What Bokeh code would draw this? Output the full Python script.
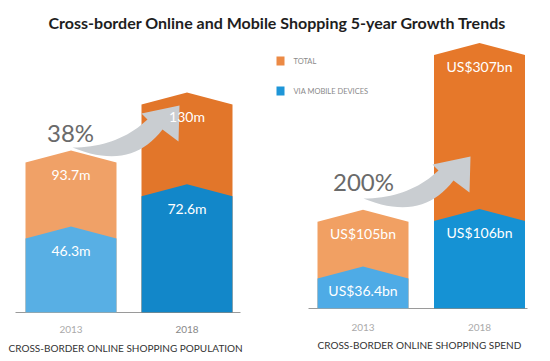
import numpy as np
from bokeh.plotting import figure
from bokeh.models import Range1d
from bokeh.core.properties import value
from bokeh.embed import file_html
from bokeh.resources import INLINE

# ---------------- data ----------------
title = "Cross-border Online and Mobile Shopping 5-year Growth Trends"
years = ["2013", "2018"]
pop_total = [93.7, 130.0]
pop_mobile = [46.3, 72.6]
pop_total_labels = ["93.7m", "130m"]
pop_mobile_labels = ["46.3m", "72.6m"]
spend_total = [105.0, 307.0]
spend_mobile = [36.4, 106.0]
spend_total_labels = ["US$105bn", "US$307bn"]
spend_mobile_labels = ["US$36.4bn", "US$106bn"]
growth_labels = ["38%", "200%"]
axis_titles = ["CROSS-BORDER ONLINE SHOPPING POPULATION",
               "CROSS-BORDER ONLINE SHOPPING SPEND"]
legend_labels = ["TOTAL", "VIA MOBILE DEVICES"]

# ---------------- layout ----------------
W, H = 550, 361
OFF = 0
FONT = "Lato"

p = figure(width=W, height=H, x_range=Range1d(OFF, OFF + W),
           y_range=Range1d(OFF + H, OFF), output_backend="svg",
           toolbar_location=None, min_border=0)
p.axis.visible = False
p.grid.visible = False
p.outline_line_color = None
p.background_fill_color = "white"

panels = [
    dict(name="pop", base=312, scale=1.6, centers=[70.5, 186.5], half=45.5,
         line=(15, 240), total=pop_total, mobile=pop_mobile,
         tl=pop_total_labels, ml=pop_mobile_labels,
         tcol=["#F0A167", "#E2762A"], mcol=["#58AFE4", "#1287C9"],
         ycol=["#AAAAAA", "#888888"], title_x=8, title_y=347, year_y=329,
         growth_xy=(70, 132), arrow_tail=(72, 147)),
    dict(name="spend", base=308, scale=0.826, centers=[362.5, 479.0], half=45.5,
         line=(308, 527), total=spend_total, mobile=spend_mobile,
         tl=spend_total_labels, ml=spend_mobile_labels,
         tcol=["#F1A063", "#E6782A"], mcol=["#4EABE6", "#1592D4"],
         ycol=["#AAAAAA", "#AAAAAA"], title_x=317, title_y=344, year_y=327,
         growth_xy=(363, 181), arrow_tail=(363, 198)),
]

PEAK = 12  # px height of the roof

def bezier(p0, c, p1, n=20):
    t = np.linspace(0, 1, n)
    x = (1 - t) ** 2 * p0[0] + 2 * (1 - t) * t * c[0] + t ** 2 * p1[0]
    y = (1 - t) ** 2 * p0[1] + 2 * (1 - t) * t * c[1] + t ** 2 * p1[1]
    return x, y

def arrow(tail):
    tx, ty = tail
    top_x, top_y = bezier((0, 0), (45, 0), (75, -28))
    bot_x, bot_y = bezier((0, 0), (58, 24), (90, -18))
    xs = list(top_x) + [69, 107, 106] + list(bot_x[::-1])
    ys = list(top_y) + [-34, -42, -6] + list(bot_y[::-1])
    return [tx + v for v in xs], [ty + v for v in ys]

# title
p.text(x=[277], y=[22], text=[title], text_color="#1E1E1E", text_font=value(FONT),
       text_font_style="bold", text_font_size="16px", text_align="center",
       text_baseline="middle")

for idx, pn in enumerate(panels):
    s = pn["scale"]
    p.extra_y_ranges[pn["name"]] = Range1d(start=(pn["base"] - (OFF + H)) / s,
                                           end=(pn["base"] - OFF) / s)
    # baseline
    p.line(x=list(pn["line"]), y=[pn["base"], pn["base"]], line_color="#9A9A9A",
           line_width=1)
    pk = PEAK / s

    def houses(vals):
        xs, ys = [], []
        for xc, v in zip(pn["centers"], vals):
            hw = pn["half"]
            xs.append([xc - hw, xc + hw, xc + hw, xc, xc - hw])
            ys.append([0, 0, v, v + pk, v])
        return xs, ys

    xs, ys = houses(pn["total"])
    p.patches(xs=xs, ys=ys, fill_color=pn["tcol"], line_color=None,
              y_range_name=pn["name"])
    xs, ys = houses(pn["mobile"])
    p.patches(xs=xs, ys=ys, fill_color=pn["mcol"], line_color=None,
              y_range_name=pn["name"])
    # arrow
    ax, ay = arrow(pn["arrow_tail"])
    p.patch(x=ax, y=ay, fill_color="#C9CDD1", line_color=None)
    # growth text
    p.text(x=[pn["growth_xy"][0]], y=[pn["growth_xy"][1]], text=[growth_labels[idx]],
           text_color="#6A6A6A", text_font=value(FONT), text_font_size="24px",
           text_align="center", text_baseline="middle")
    # value labels
    lab_off = 12 / s
    p.text(x=pn["centers"], y=[v - lab_off for v in pn["total"]], text=pn["tl"],
           text_color="white", text_font=value(FONT), text_font_size="14px",
           text_align="center", text_baseline="middle", y_range_name=pn["name"])
    p.text(x=pn["centers"], y=[v - lab_off for v in pn["mobile"]], text=pn["ml"],
           text_color="white", text_font=value(FONT), text_font_size="14px",
           text_align="center", text_baseline="middle", y_range_name=pn["name"])
    # year labels
    p.text(x=pn["centers"], y=[pn["year_y"]] * 2, text=years,
           text_color=pn["ycol"], text_font=value(FONT), text_font_size="10px",
           text_align="center", text_baseline="middle")
    # axis title
    p.text(x=[pn["title_x"]], y=[pn["title_y"]], text=[axis_titles[idx]],
           text_color="#333333", text_font=value(FONT), text_font_size="10px",
           text_align="left", text_baseline="middle")

# legend
leg_cols = ["#EC8A45", "#1E96D8"]
leg_y = [60.5, 90.5]
p.rect(x=[280, 280], y=leg_y, width=8, height=9, fill_color=leg_cols, line_color=None)
p.text(x=[293, 293], y=leg_y, text=legend_labels, text_color="#8A8A8A",
       text_font=value(FONT), text_font_size="7.5px", text_align="left",
       text_baseline="middle")

open("out.html", "w").write(file_html(p, INLINE))
